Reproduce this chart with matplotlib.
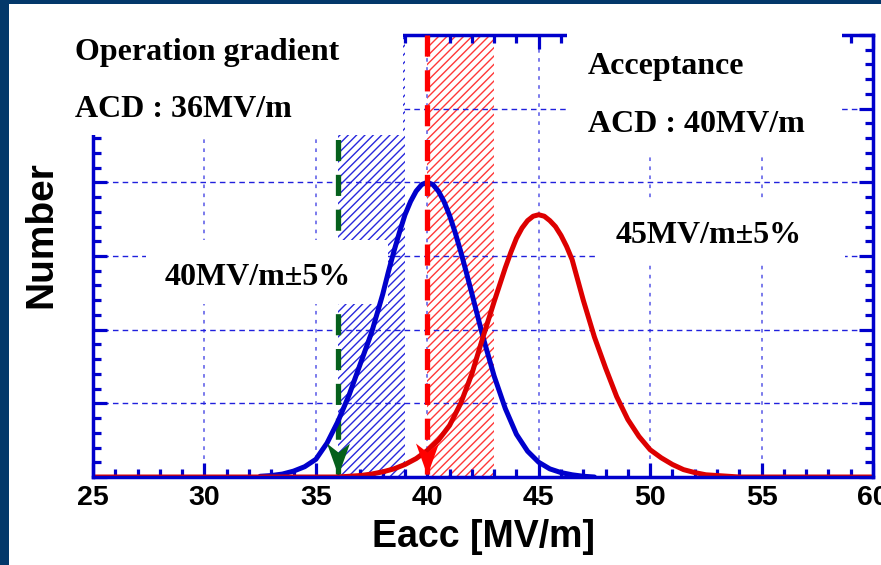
import numpy as np
import matplotlib
matplotlib.use('Agg')
import matplotlib.pyplot as plt
from matplotlib.patches import Rectangle
from matplotlib.ticker import MultipleLocator

plt.rcParams['font.family'] = 'Liberation Sans'
plt.rcParams['font.weight'] = 'bold'
plt.rcParams['axes.labelweight'] = 'bold'

# valores
eacc_op = [32.5, 33, 33.5, 34, 34.5, 35, 35.5, 36, 36.5, 37, 37.5, 38, 38.25, 38.5, 38.75,
           39, 39.25, 39.5, 39.75, 40, 40.25, 40.5, 40.75, 41, 41.25, 41.5, 41.75, 42, 42.5,
           43, 43.5, 44, 44.5, 45, 45.5, 46, 46.5, 47, 47.5]
num_op = [0.01, 0.02, 0.04, 0.08, 0.14, 0.24, 0.46, 0.76, 1.12, 1.54, 1.96, 2.48, 2.78, 3.06, 3.32,
          3.56, 3.74, 3.88, 3.97, 4.00, 3.97, 3.88, 3.74, 3.55, 3.32, 3.06, 2.78, 2.49, 1.90,
          1.37, 0.93, 0.58, 0.35, 0.20, 0.11, 0.06, 0.03, 0.01, 0.0]

eacc_acc = [25, 36, 36.5, 37, 37.5, 38, 38.5, 39, 39.5, 40, 40.5, 41, 41.5, 42, 42.5, 43, 43.5,
            43.75, 44, 44.25, 44.5, 44.75, 45, 45.25, 45.5, 45.75, 46, 46.25, 46.5, 47, 47.5,
            48, 48.5, 49, 49.5, 50, 50.5, 51, 51.5, 52, 52.5, 53, 53.5, 54, 60]
num_acc = [0.0, 0.0, 0.01, 0.02, 0.04, 0.07, 0.11, 0.17, 0.25, 0.36, 0.50, 0.70, 1.00, 1.40, 1.90,
           2.38, 2.84, 3.05, 3.24, 3.38, 3.48, 3.54, 3.56, 3.54, 3.48, 3.40, 3.28, 3.13, 2.95,
           2.40, 1.90, 1.48, 1.09, 0.78, 0.55, 0.37, 0.26, 0.17, 0.10, 0.06, 0.03, 0.02, 0.01,
           0.0, 0.0]

acd_op = 36      # Operation gradient
acd_acc = 40     # Acceptance
band_op = (36, 39)
band_acc = (40, 43)

W, H = 881, 565
fig = plt.figure(figsize=(W / 100, H / 100), dpi=100, facecolor='#03386a')


def fx(x, y):
    # pixeles (origen arriba a la izquierda) -> fraccion de figura
    return x / W, 1 - y / H


def caja(x0, y0, x1, y1):
    return (x0 / W, 1 - y1 / H), (x1 - x0) / W, (y1 - y0) / H


# fondo blanco dentro del marco azul
xy, w, h = caja(9, 4, W, H)
fig.add_artist(Rectangle(xy, w, h, transform=fig.transFigure, facecolor='white',
                         edgecolor='none', zorder=-1))

ax = fig.add_axes([93 / W, (H - 477) / H, (873 - 93) / W, (477 - 35) / H])
ax.set_xlim(25, 60)
ax.set_ylim(0, 6)
ax.set_axisbelow(True)

azul = '#0000cc'
for s in ax.spines.values():
    s.set_color(azul)
    s.set_linewidth(2.5)

ax.xaxis.set_major_locator(MultipleLocator(5))
ax.xaxis.set_minor_locator(MultipleLocator(1))
ax.yaxis.set_major_locator(MultipleLocator(1))
ax.yaxis.set_minor_locator(MultipleLocator(0.2))
ax.tick_params(which='both', direction='in', color=azul, width=2.3,
               top=True, right=True, left=True, bottom=True)
ax.tick_params(which='major', length=10)
ax.tick_params(which='minor', length=6)
ax.tick_params(axis='y', labelleft=False)
ax.tick_params(axis='x', pad=6, labelsize=20.5)

ax.grid(axis='x', which='major', color='#7070ea', linestyle=(0, (2, 3)), linewidth=1.3)
ax.grid(axis='y', which='major', color='#2020dd', linestyle=(0, (4, 3)), linewidth=1.0)

# bandas rayadas
ax.axvspan(*band_op, facecolor='white', edgecolor='#2828dd', hatch='////', linewidth=0, zorder=0.3)
ax.axvspan(*band_acc, facecolor='white', edgecolor='#ff3838', hatch='////', linewidth=0, zorder=0.3)

# lineas discontinuas con punta
ax.plot([acd_op, acd_op], [6, 0], color='#05601c', linewidth=3.8,
        linestyle=(0, (4.0, 2.6)), zorder=1.5)
ax.plot([acd_acc, acd_acc], [6, 0], color='#ff0000', linewidth=3.8,
        linestyle=(0, (4.0, 2.6)), zorder=3)

punta = [(0, 0), (-11.5, 32), (0, 23), (11.5, 32), (0, 0)]
ax.plot([acd_op], [0.03], marker=punta, markersize=46, color='#05601c',
        markeredgewidth=0, linestyle='none', zorder=3, clip_on=False)
ax.plot([acd_acc], [0.03], marker=punta, markersize=46, color='#ff0000',
        markeredgewidth=0, linestyle='none', zorder=3, clip_on=False)

# cajas blancas dentro del eje
for c in [(146, 240, 388, 304), (595, 200, 845, 262)]:
    xy, w, h = caja(*c)
    ax.add_patch(Rectangle(xy, w, h, transform=fig.transFigure, facecolor='white',
                           edgecolor='none', zorder=1.8, clip_on=False))

ax.plot(eacc_op, num_op, color='#0000cc', linewidth=3.6, solid_capstyle='round',
        solid_joinstyle='round', zorder=2)
ax.plot(eacc_acc, num_acc, color='#dd0000', linewidth=3.6, solid_capstyle='round',
        solid_joinstyle='round', zorder=2.1)

ax.set_xlabel('Eacc [MV/m]', fontsize=27, fontweight='bold', va='center')
ax.xaxis.set_label_coords(0.5, (477 - 537) / 442)
ax.set_ylabel('Number', fontsize=28, fontweight='bold', va='center')
ax.yaxis.set_label_coords((41 - 93) / 780, (477 - 235) / 442)

# cajas de texto por encima del eje
for c in [(10, 4, 403, 135), (567, 4, 842, 152)]:
    xy, w, h = caja(*c)
    fig.add_artist(Rectangle(xy, w, h, transform=fig.transFigure, facecolor='white',
                             edgecolor='none', zorder=5))

serif = dict(fontfamily='Liberation Serif', fontweight='bold', fontsize=23,
             va='baseline', ha='left', zorder=6)
fig.text(*fx(75, 60), 'Operation gradient', **serif)
fig.text(*fx(75, 117), 'ACD : 36MV/m', **serif)
fig.text(*fx(588, 74), 'Acceptance', **serif)
fig.text(*fx(588, 132), 'ACD : 40MV/m', **serif)
fig.text(*fx(165, 285), '40MV/m±5%', **serif)
fig.text(*fx(616, 243), '45MV/m±5%', **serif)

fig.savefig('out.png', dpi=100, facecolor=fig.get_facecolor())
